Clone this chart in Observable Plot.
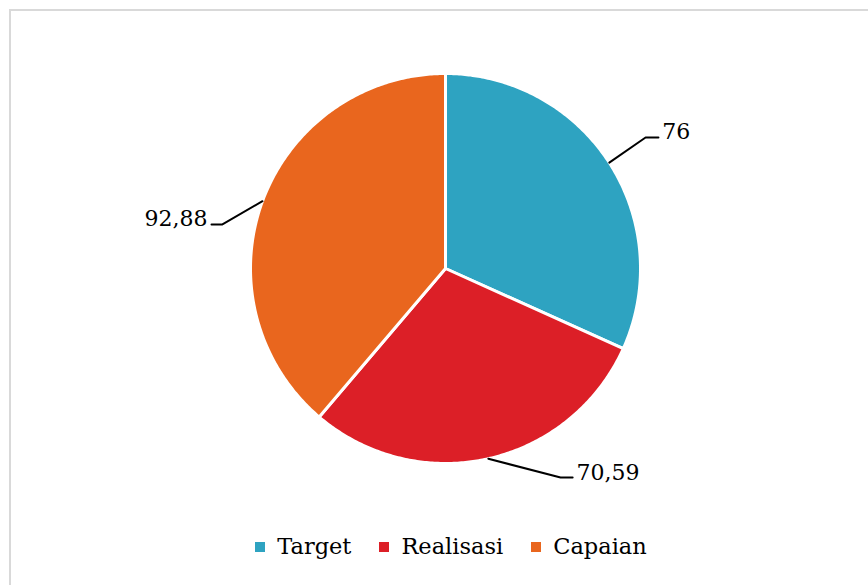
<!DOCTYPE html>
<html><head><meta charset="utf-8">
<script src="https://cdn.jsdelivr.net/npm/d3@7"></script>
<script src="https://cdn.jsdelivr.net/npm/@observablehq/plot@0.6"></script>
<style>
html,body{margin:0;padding:0;background:#fff;overflow:hidden}
#wrap{position:relative;width:868px;height:585px;overflow:hidden;font-family:"DejaVu Serif";background:#fff}
#frame{position:absolute;left:9px;top:9px;width:900px;height:640px;border:2px solid #d9d9d9;box-sizing:border-box}
#chart{position:absolute;left:0;top:0}
#legend{position:absolute;left:17px;width:868px;top:533px;display:flex;justify-content:center;align-items:center;font-size:22.5px;color:#000}
.item{display:flex;align-items:center;margin:0 14px}
.sw{width:10px;height:10px;margin-right:12px;margin-top:2px}
</style>
</head><body>
<div id="wrap"><div id="frame"></div><div id="chart"></div><div id="legend"></div></div>
<script>
// ---- data ----
const categories = ["Target", "Realisasi", "Capaian"];
const values = [76, 70.59, 92.88];
const valueLabels = ["76", "70,59", "92,88"];
const colors = ["#2ea3c1", "#dc1f27", "#e9661e"];

// ---- layout (label elbows in pie-radius units, not data) ----
const labelLayout = {
  Target:    {ex: 1.026, ey: 0.672, len: 0.066, anchor: "start"},
  Realisasi: {ex: 0.590, ey: -1.072, len: 0.062, anchor: "start"},
  Capaian:   {ex: -1.144, ey: 0.226, len: -0.056, anchor: "end"}
};
const FONT = '"DejaVu Serif"';

const arcs = d3.pie().sort(null)(values);
const slicePts = [];
const leaderPts = [];
const labels = [];
arcs.forEach((a, i) => {
  const name = categories[i];
  slicePts.push({name, x: 0, y: 0});
  const n = Math.max(2, Math.ceil((a.endAngle - a.startAngle) / 0.01));
  for (let k = 0; k <= n; k++) {
    const t = a.startAngle + (a.endAngle - a.startAngle) * k / n;
    slicePts.push({name, x: Math.sin(t), y: Math.cos(t)});
  }
  slicePts.push({name, x: 0, y: 0});
  const mid = (a.startAngle + a.endAngle) / 2;
  const L = labelLayout[name];
  leaderPts.push({name, x: Math.sin(mid), y: Math.cos(mid)});
  leaderPts.push({name, x: L.ex, y: L.ey});
  leaderPts.push({name, x: L.ex + L.len, y: L.ey});
  labels.push({name, text: valueLabels[i], x: L.ex + L.len + (L.anchor === "start" ? 0.02 : -0.02), y: L.ey, anchor: L.anchor});
});

const chart = Plot.plot({
  width: 868, height: 585,
  marginLeft: 250, marginRight: 228, marginTop: 73, marginBottom: 122,
  x: {domain: [-1, 1], axis: null},
  y: {domain: [-1, 1], axis: null},
  color: {domain: categories, range: colors},
  style: {fontFamily: FONT, background: "transparent"},
  marks: [
    Plot.line(slicePts, {x: "x", y: "y", z: "name", fill: "name", stroke: "white", strokeWidth: 3, strokeLinejoin: "round"}),
    Plot.line(leaderPts, {x: "x", y: "y", z: "name", stroke: "black", strokeWidth: 2}),
    Plot.text(labels.filter(d => d.anchor === "start"), {x: "x", y: "y", text: "text", textAnchor: "start", lineAnchor: "bottom", fontSize: 22, fontFamily: FONT, fill: "black", dy: 2}),
    Plot.text(labels.filter(d => d.anchor === "end"), {x: "x", y: "y", text: "text", textAnchor: "end", lineAnchor: "bottom", fontSize: 22, fontFamily: FONT, fill: "black", dy: 2})
  ]
});
document.getElementById("chart").appendChild(chart);

const leg = document.getElementById("legend");
categories.forEach((c, i) => {
  const it = document.createElement("div"); it.className = "item";
  const sw = document.createElement("div"); sw.className = "sw"; sw.style.background = colors[i];
  const tx = document.createElement("span"); tx.textContent = c;
  it.appendChild(sw); it.appendChild(tx); leg.appendChild(it);
});
</script>
</body></html>
